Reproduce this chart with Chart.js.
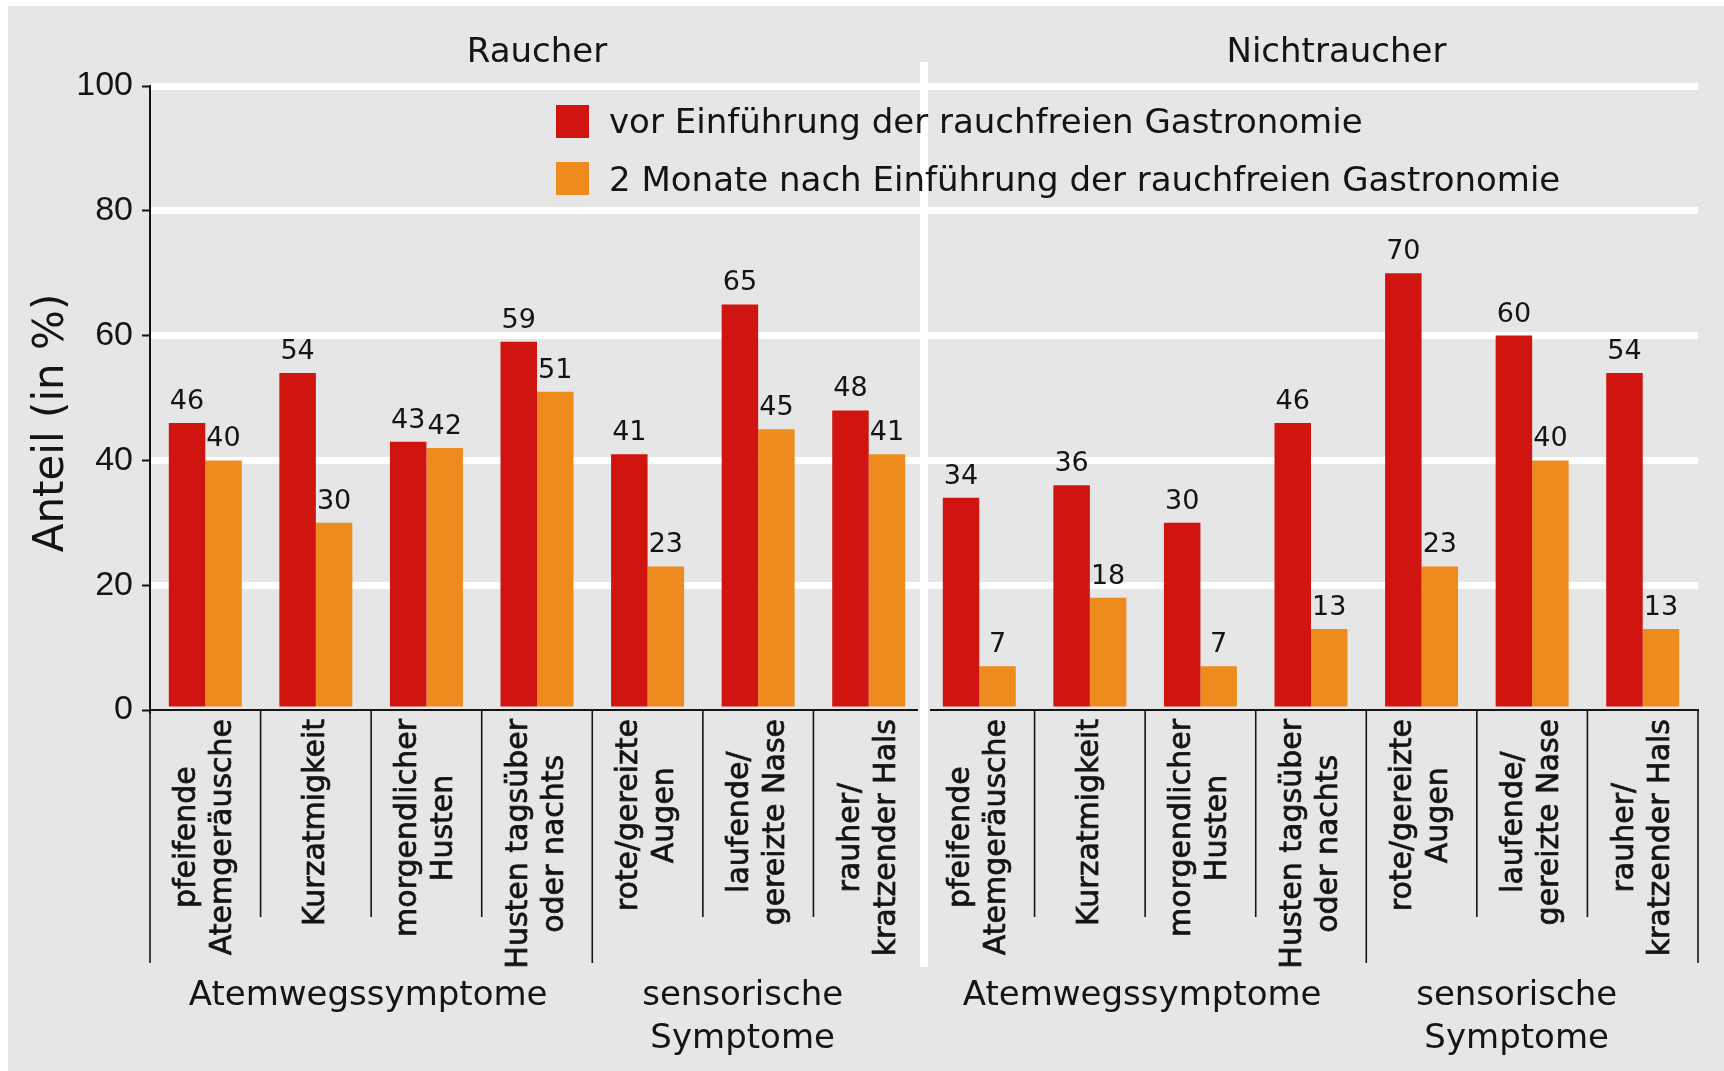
<!DOCTYPE html>
<html>
<head>
<meta charset="utf-8">
<script src="https://cdn.jsdelivr.net/npm/chart.js@4.4.1/dist/chart.umd.min.js"></script>
<style>
  body { margin: 0; background: #fff; }
  #wrap { width: 1724px; height: 1071px; }
</style>
</head>
<body>
<div id="wrap"><canvas id="chart" width="1724" height="1071"></canvas></div>
<script>
// symptom labels (same list for both panels)
const symptoms = [
  ['pfeifende', 'Atemgeräusche'],
  ['Kurzatmigkeit'],
  ['morgendlicher', 'Husten'],
  ['Husten tagsüber', 'oder nachts'],
  ['rote/gereizte', 'Augen'],
  ['laufende/', 'gereizte Nase'],
  ['rauher/', 'kratzender Hals'],
];
const panels = ['Raucher', 'Nichtraucher'];
const symptomGroups = [['Atemwegssymptome'], ['sensorische', 'Symptome']];
const seriesNames = [
  'vor Einführung der rauchfreien Gastronomie',
  '2 Monate nach Einführung der rauchfreien Gastronomie',
];
const raucherVor = [46, 54, 43, 59, 41, 65, 48];
const raucherNach = [40, 30, 42, 51, 23, 45, 41];
const nichtVor = [34, 36, 30, 46, 70, 60, 54];
const nichtNach = [7, 18, 7, 13, 23, 40, 13];
const yTitle = 'Anteil (in %)';

const RED = '#d0140f';
const ORANGE = '#ee8b1e';
const INK = '#141414';
const BG = '#e6e6e6';
const SANS = '"DejaVu Sans", sans-serif';

Chart.defaults.font.family = SANS;
Chart.defaults.color = INK;

const labels = [...symptoms, ...symptoms];

const decor = {
  id: 'decor',
  beforeDraw(chart) {
    const c = chart.ctx;
    c.save();
    c.fillStyle = BG;
    c.fillRect(8, 6, chart.width - 8, chart.height - 6);
    c.restore();
  },
  afterDatasetsDraw(chart) {
    // value labels above bars
    const c = chart.ctx;
    c.save();
    c.font = `27px ${SANS}`;
    c.fillStyle = INK;
    c.textAlign = 'center';
    c.textBaseline = 'alphabetic';
    chart.data.datasets.forEach((ds, di) => {
      chart.getDatasetMeta(di).data.forEach((bar, i) => {
        c.fillText(String(ds.data[i]), bar.x, bar.y - 14);
      });
    });
    c.restore();
  },
  afterDraw(chart) {
    const c = chart.ctx;
    const xs = chart.scales.x;
    const area = chart.chartArea;
    const px = i => xs.getPixelForValue(i);
    const cw = px(1) - px(0);
    const edge = i => i < 0 ? area.left : (i >= labels.length - 1 ? area.right : (px(i) + px(i + 1)) / 2);
    const axisY = area.bottom;
    const n = symptoms.length;

    c.save();
    // separators under the axis
    c.strokeStyle = INK;
    c.lineWidth = 1.6;
    const longAfter = [-1, 3, 10, 13];
    for (let i = -1; i < labels.length; i++) {
      if (i === n - 1) continue; // panel divider
      const x = edge(i);
      const bottom = longAfter.includes(i) ? 963 : 917;
      c.beginPath();
      c.moveTo(x, axisY);
      c.lineTo(x, bottom);
      c.stroke();
    }

    // rotated category labels (slightly heavier, like the print)
    c.fillStyle = INK;
    c.lineWidth = 0.7;
    c.font = `30px ${SANS}`;
    c.textAlign = 'center';
    c.textBaseline = 'middle';
    labels.forEach((lines, i) => {
      const maxW = Math.max(...lines.map(t => c.measureText(t).width));
      c.save();
      c.translate(px(i), axisY + 9 + maxW / 2);
      c.rotate(-Math.PI / 2);
      lines.forEach((t, k) => {
        const y = (k - (lines.length - 1) / 2) * 36;
        c.fillText(t, 0, y);
        c.strokeText(t, 0, y);
      });
      c.restore();
    });

    // group labels under the categories
    c.font = `34px ${SANS}`;
    c.textBaseline = 'alphabetic';
    for (let p = 0; p < 2; p++) {
      const o = p * n;
      const atemX = (px(o + 1) + px(o + 2)) / 2 - 3;
      c.fillText(symptomGroups[0][0], atemX, 1005);
      const sensX = px(o + 5) - 0.14 * cw;
      symptomGroups[1].forEach((t, k) => c.fillText(t, sensX, 1005 + k * 43));
    }

    // panel titles
    c.fillText(panels[0], px(3), 62);
    c.fillText(panels[1], px(10) + 0.23 * cw, 62);

    // y axis title
    c.font = `42px ${SANS}`;
    c.save();
    c.translate(63, 423);
    c.rotate(-Math.PI / 2);
    c.fillText(yTitle, 0, 0);
    c.restore();

    // white divider between panels
    const dx = edge(n - 1);
    c.fillStyle = BG;
    c.fillRect(dx - 6, axisY - 3, 12, 6);
    c.fillStyle = '#fff';
    c.fillRect(dx - 4, 62, 8, 967 - 62);

    // legend
    const colors = [RED, ORANGE];
    const sqTop = [105, 162];
    const base = [133, 191];
    c.font = `34px ${SANS}`;
    c.textAlign = 'left';
    seriesNames.forEach((name, k) => {
      c.fillStyle = colors[k];
      c.fillRect(556, sqTop[k], 33, 33);
      c.fillStyle = INK;
      c.fillText(name, 609, base[k]);
    });
    c.restore();
  },
};

new Chart(document.getElementById('chart'), {
  type: 'bar',
  data: {
    labels,
    datasets: [
      {
        label: seriesNames[0],
        data: [...raucherVor, ...nichtVor],
        backgroundColor: RED,
        borderWidth: 0,
      },
      {
        label: seriesNames[1],
        data: [...raucherNach, ...nichtNach],
        backgroundColor: ORANGE,
        borderWidth: 0,
      },
    ],
  },
  options: {
    responsive: false,
    animation: false,
    devicePixelRatio: 1,
    layout: { padding: { top: 86, right: 26, left: 0, bottom: 0 } },
    datasets: { bar: { categoryPercentage: 0.66, barPercentage: 1 } },
    plugins: {
      legend: { display: false },
      tooltip: { enabled: false },
    },
    scales: {
      x: {
        offset: true,
        grid: { display: false },
        border: { display: true, color: INK, width: 2 },
        ticks: { display: false },
        afterFit: s => { s.height = 1071 - 710; },
      },
      y: {
        min: 0,
        max: 100,
        ticks: {
          stepSize: 20,
          padding: 9,
          color: INK,
          font: { family: '"Liberation Sans", sans-serif', size: 34 },
        },
        grid: {
          color: ctx => (ctx.tick && ctx.tick.value === 0 ? 'rgba(0,0,0,0)' : '#ffffff'),
          lineWidth: 7,
          tickColor: INK,
          tickWidth: 2,
          tickLength: 8,
        },
        border: { display: true, color: INK, width: 2 },
        afterFit: s => { s.width = 150; },
      },
    },
  },
  plugins: [decor],
});
</script>
</body>
</html>
